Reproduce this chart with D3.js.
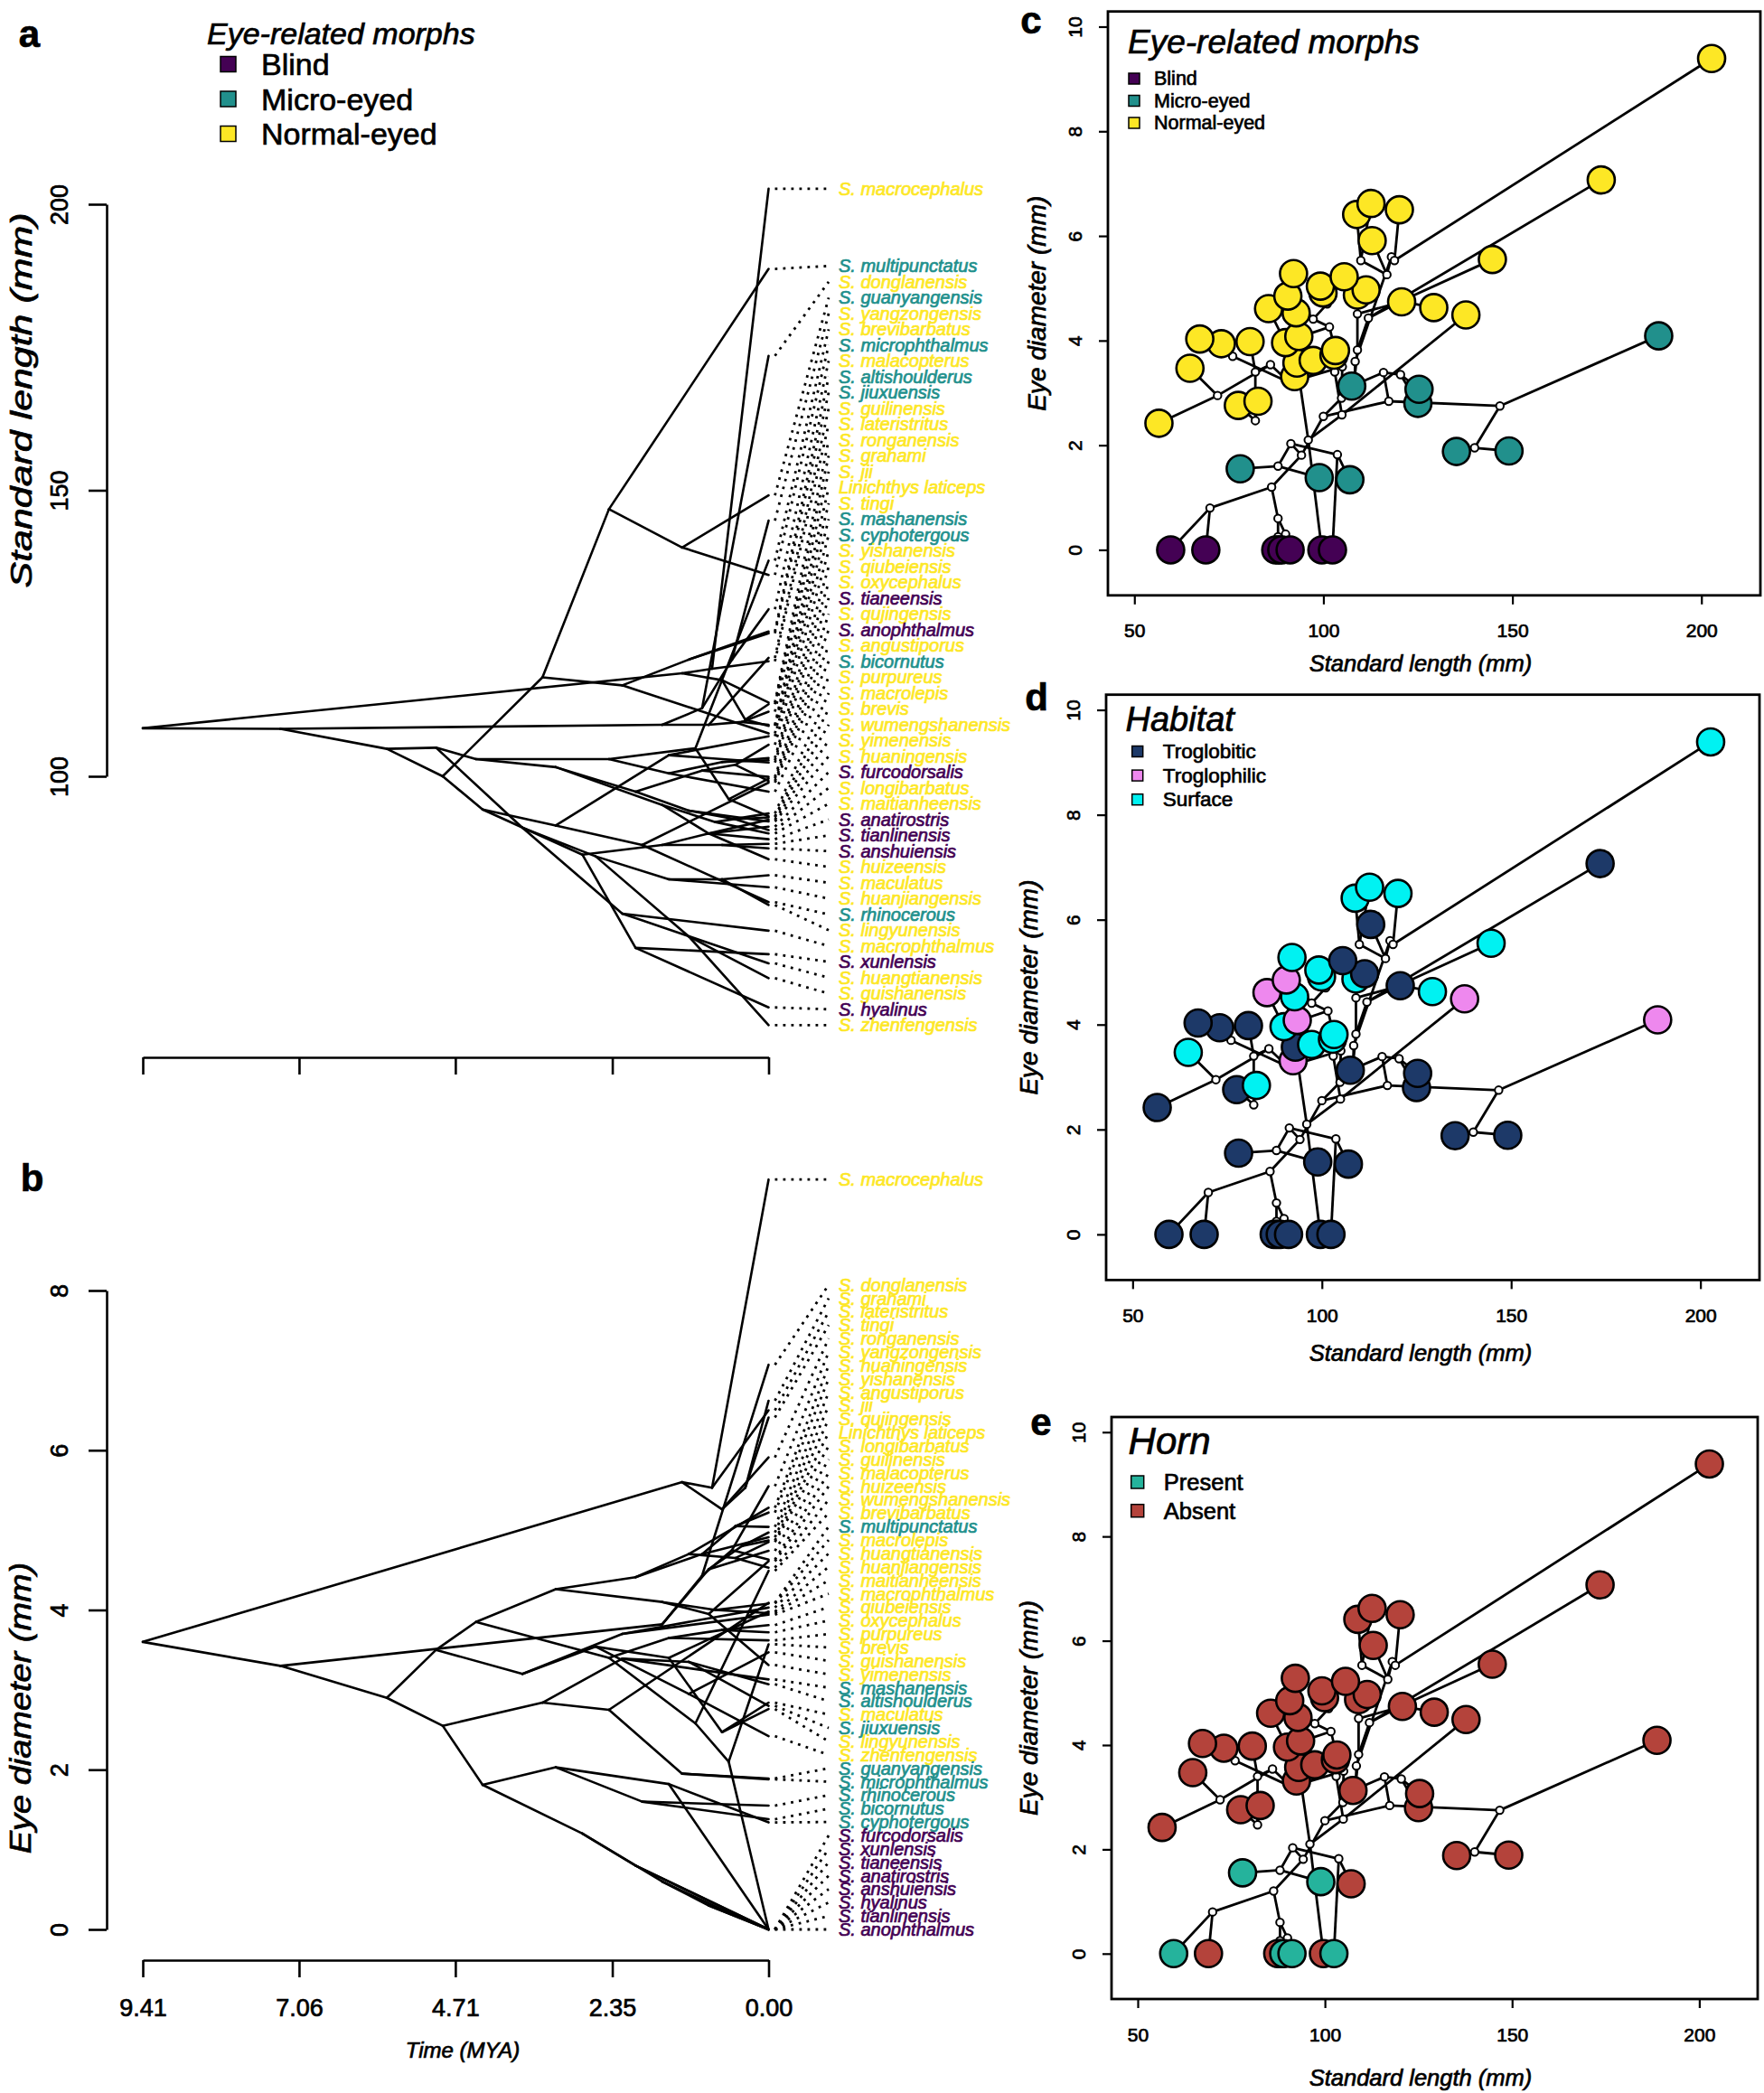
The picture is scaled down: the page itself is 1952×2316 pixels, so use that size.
<!DOCTYPE html>
<html><head><meta charset="utf-8">
<script src="https://cdn.jsdelivr.net/npm/d3@7"></script>
<style>
html,body{margin:0;padding:0;background:#fff;}
svg{display:block;font-family:"Liberation Sans",Arial,Helvetica,sans-serif;}
</style></head><body>
<svg id="fig" width="1952" height="2316"></svg>
<script>
// ---------------- DATA ----------------
// Tips (species), listed in the order of panel b
const tipNames = ["S. macrocephalus","S. donglanensis","S. grahami","S. lateristritus","S. tingi","S. ronganensis","S. yangzongensis","S. huaningensis","S. yishanensis","S. angustiporus","S. jii","S. qujingensis","Linichthys laticeps","S. longibarbatus","S. guilinensis","S. malacopterus","S. huizeensis","S. wumengshanensis","S. brevibarbatus","S. multipunctatus","S. macrolepis","S. huangtianensis","S. huanjiangensis","S. maitianheensis","S. macrophthalmus","S. qiubeiensis","S. oxycephalus","S. purpureus","S. brevis","S. guishanensis","S. yimenensis","S. mashanensis","S. altishoulderus","S. maculatus","S. jiuxuensis","S. lingyunensis","S. zhenfengensis","S. guanyangensis","S. microphthalmus","S. rhinocerous","S. bicornutus","S. cyphotergous","S. furcodorsalis","S. xunlensis","S. tianeensis","S. anatirostris","S. anshuiensis","S. hyalinus","S. tianlinensis","S. anophthalmus"];
const tipSL = [202.7,173.5,112.6,120.1,108.8,112.9,144.7,92.1,105.5,99.2,111.3,99.9,109.0,90.6,120.7,129.2,85.5,92.8,137.7,188.7,93.5,67.3,80.6,90.0,73.0,103.2,102.8,97.3,93.0,64.7,92.4,107.5,125.3,82.7,125.0,77.5,56.5,149.1,135.2,78.0,98.9,107.0,91.2,68.9,102.4,89.0,87.4,59.6,88.2,99.6];
const tipEye = [9.39,7.07,6.62,6.50,6.41,5.91,5.55,5.28,5.22,5.04,4.97,4.91,4.87,4.85,4.74,4.63,4.61,4.53,4.49,4.09,4.08,4.03,3.98,3.96,3.94,3.81,3.72,3.62,3.57,3.47,3.31,3.13,3.07,2.84,2.80,2.76,2.42,1.89,1.88,1.55,1.38,1.34,0,0,0,0,0,0,0,0];
const tipMorph = ["N","N","N","N","N","N","N","N","N","N","N","N","N","N","N","N","N","N","N","M","N","N","N","N","N","N","N","N","N","N","N","M","M","N","M","N","N","M","M","M","M","M","B","B","B","B","B","B","B","B"];
const tipHabitat = ["S","G","S","S","S","G","S","S","G","S","G","S","S","P","G","S","P","S","P","P","P","G","G","S","G","S","S","S","G","S","P","G","G","S","G","G","G","G","G","G","G","G","G","G","G","G","G","G","G","G"];
const tipHorn = ["A","A","A","A","A","A","A","A","A","A","A","A","A","A","A","A","A","A","A","A","A","A","A","A","A","A","A","A","A","A","A","A","A","A","A","A","A","A","A","P","P","A","P","A","P","P","A","P","P","A"];
const tipParent = ["u1","v1","u3","u1","u3","u2","v3","d7","d10","d10","v4","d8","v4","d9","v2","v3","d12","d9","d14","c2","d11","d18","d19","d11","d18","d15","d15","d13","d16","d20","d12","c3","c5","d21","c5","d21","d20","c4","c4","b8","b8","b9","b6","b5","b9","b6","b7","b5","b7","d16"];

// Internal nodes (ancestral states)
const nodeIds    = ["R","n1","n2","nU","u1","u2","u3","nV","v1","v3","v2","v4","n3","d1","d3","d5","d7","d9","d8","d10","d6","d11","d12","d4","d13","d15","d14","d16","d2","d17","d19","d21","d20","d18","n4","b1","b2","b4","b6","b7","b5","b3","b8","b9","c1","c2","c4","c3","c5"];
const nodeParent = [null,"R","n1","R","nU","nU","u2","n1","nV","v1","nV","v2","n2","n3","d1","d3","d5","d7","d5","d8","d3","d6","d6","d1","d4","d13","d4","d14","n3","d2","d17","d19","d17","d2","n2","n4","b1","b2","b4","b4","b2","b1","b3","b3","n4","c1","c2","c1","c3"];
const nodeAge    = [9.41,7.34,5.74,1.30,0.85,0.70,0.35,1.60,1.00,0.55,0.90,0.40,5.00,4.40,3.20,2.00,1.20,0.50,1.00,0.50,1.60,0.80,0.90,2.40,1.50,0.70,1.10,0.60,3.70,2.60,1.50,0.70,1.20,2.20,4.90,4.30,2.80,1.60,0.90,0.70,2.00,3.20,1.90,1.50,3.40,2.40,1.30,2.20,1.20];
const nodeSL     = [108.4,108.3,104.8,118.0,118.8,116.8,109.9,109.0,111.9,120.4,109.0,109.5,105.0,103.0,101.6,97.3,94.0,92.5,101.0,102.0,95.0,92.0,90.0,103.0,100.5,102.5,104.9,96.0,91.0,86.0,82.0,82.0,72.0,76.0,100.0,94.2,86.3,88.0,90.0,88.0,70.0,91.4,88.0,103.7,117.3,146.7,140.0,115.9,120.4];
const nodeEye    = [3.60,3.30,2.90,5.60,5.53,5.26,5.53,3.82,4.43,4.75,4.51,4.80,3.50,3.85,4.26,4.41,4.70,4.65,4.70,5.05,4.10,4.00,3.95,3.40,3.65,3.75,2.58,2.10,3.20,3.54,3.40,2.47,2.95,3.70,2.55,1.81,1.20,0.60,0.30,0.25,0.80,2.03,1.60,1.82,2.84,2.75,1.95,3.39,3.35];

// Categories and tick labels
const morphKeys = ["B","M","N"];
const morphLabels = ["Blind","Micro-eyed","Normal-eyed"];
const habitatKeys = ["G","P","S"];
const habitatLabels = ["Troglobitic","Troglophilic","Surface"];
const hornKeys = ["P","A"];
const hornLabels = ["Present","Absent"];
const timeTicks = [9.41, 7.06, 4.71, 2.35, 0.00];
const slTicksA = [100, 150, 200];
const eyeTicksB = [0, 2, 4, 6, 8];
const slTicksScatter = [50, 100, 150, 200];
const eyeTicksScatter = [0, 2, 4, 6, 8, 10];

// ---------------- STYLE ----------------
const morphColors = {B:"#440154", M:"#21908C", N:"#FDE725"};
const habitatColors = {G:"#1d3968", P:"#ee88ee", S:"#00f2f2"};
const hornColors = {P:"#25b39c", A:"#b4433b"};

// ---------------- BUILD TREE ----------------
const svg = d3.select("#fig");
svg.append("rect").attr("width",1952).attr("height",2316).attr("fill","#fff");

const tips = tipNames.map((name,i)=>({name, SL:tipSL[i], eye:tipEye[i], morph:tipMorph[i], habitat:tipHabitat[i], horn:tipHorn[i], parent:tipParent[i], age:0, tip:true}));
const nodes = nodeIds.map((id,i)=>({id, parent:nodeParent[i], age:nodeAge[i], SL:nodeSL[i], eye:nodeEye[i]}));
const byId = new Map(nodes.map(n=>[n.id,n]));
const edges = [];
nodes.forEach(n=>{ if(n.parent) edges.push({a:byId.get(n.parent), b:n}); });
tips.forEach(t=>edges.push({a:byId.get(t.parent), b:t}));

// ---------------- HELPERS ----------------
function spread(vals, gap, lo, hi){
  const n = vals.length;
  const blocks = [];
  vals.forEach((v,i)=>{
    blocks.push({s:v - i*gap, c:1});
    while(blocks.length>1 && blocks[blocks.length-2].s/blocks[blocks.length-2].c > blocks[blocks.length-1].s/blocks[blocks.length-1].c){
      const b = blocks.pop(); blocks[blocks.length-1].s += b.s; blocks[blocks.length-1].c += b.c;
    }
  });
  const w = []; blocks.forEach(b=>{ for(let k=0;k<b.c;k++) w.push(b.s/b.c); });
  const H = hi - (n-1)*gap;
  return w.map((wi,i)=>Math.min(Math.max(wi,lo),H) + i*gap);
}
function rotLabels(axisG, offset){
  axisG.selectAll(".tick text")
    .attr("transform","rotate(-90)").attr("x",0).attr("y",-offset).attr("dy",null)
    .attr("text-anchor","middle").attr("dominant-baseline","central");
}
function styleAxis(g, lw, fs){
  g.attr("font-family",null).attr("font-size",fs);
  g.selectAll("path.domain").attr("stroke","#000").attr("stroke-width",lw);
  g.selectAll(".tick line").attr("stroke","#000").attr("stroke-width",lw);
  g.selectAll(".tick text").attr("fill","#000");
}

const xTime = d3.scaleLinear().domain([9.41,0]).range([158,850.5]);

// ---------------- PHENOGRAM ----------------
function phenogram(trait, yScale, gap, yTicks, xAxisY, showTimeLabels){
  const g = svg.append("g");
  g.selectAll("line.edge").data(edges).join("line").attr("class","edge")
    .attr("x1",d=>xTime(d.a.age)).attr("y1",d=>yScale(d.a[trait]))
    .attr("x2",d=>xTime(d.b.age)).attr("y2",d=>yScale(d.b[trait]))
    .attr("stroke","#000").attr("stroke-width",2.6).attr("stroke-linecap","round");
  const sorted = tips.map(t=>({t, y:yScale(t[trait])})).sort((p,q)=>p.y-q.y);
  const ys = sorted.map(s=>s.y);
  const lab = spread(ys, gap, d3.min(ys), d3.max(ys));
  sorted.forEach((s,i)=>{ s.ly = lab[i]; });
  const tipX = xTime(0);
  g.selectAll("line.lead").data(sorted).join("line").attr("class","lead")
    .attr("x1",tipX+7).attr("y1",d=>d.y).attr("x2",917).attr("y2",d=>d.ly)
    .attr("stroke","#000").attr("stroke-width",2.8).attr("stroke-dasharray","2.8,6.2");
  g.selectAll("text.tip").data(sorted).join("text").attr("class","tip")
    .attr("x",928).attr("y",d=>d.ly).attr("dominant-baseline","central")
    .attr("font-size",20).attr("font-style","italic")
    .attr("fill",d=>morphColors[d.t.morph]).text(d=>d.t.name);
  // y axis
  const ya = g.append("g").attr("transform","translate(118,0)")
    .call(d3.axisLeft(yScale).tickValues(yTicks).tickSize(20).tickSizeOuter(0));
  styleAxis(ya, 2.6, 27);
  rotLabels(ya, 52);
  // x axis
  const xa = g.append("g").attr("transform",`translate(0,${xAxisY})`)
    .call(d3.axisBottom(xTime).tickValues(timeTicks).tickSize(19).tickSizeOuter(0)
      .tickFormat(showTimeLabels ? d3.format(".2f") : ()=>""));
  styleAxis(xa, 2.6, 27);
  xa.selectAll(".tick text").attr("y",53).attr("dy",null).attr("dominant-baseline","central");
  return g;
}

const ySL = d3.scaleLinear().domain([100,200]).range([859,226]);
const yEye = d3.scaleLinear().domain([0,8]).range([2135,1428]);
phenogram("SL", ySL, 17.5, slTicksA, 1170, false);
phenogram("eye", yEye, 14.86, eyeTicksB, 2169, true);

// titles for a/b (stretched along their length like the reference)
svg.append("text").attr("transform","translate(23,443) rotate(-90) scale(1.3,1)").attr("text-anchor","middle")
  .attr("dominant-baseline","central").attr("font-size",33).attr("font-style","italic").text("Standard length (mm)");
svg.append("text").attr("transform","translate(23,1890) rotate(-90) scale(1.15,1)").attr("text-anchor","middle")
  .attr("dominant-baseline","central").attr("font-size",33).attr("font-style","italic").text("Eye diameter (mm)");
svg.append("text").attr("x",512).attr("y",2268).attr("text-anchor","middle")
  .attr("dominant-baseline","central").attr("font-size",24).attr("font-style","italic").text("Time (MYA)");

// legend panel a
const legA = svg.append("g");
legA.append("text").attr("x",229).attr("y",37).attr("dominant-baseline","central")
  .attr("font-size",34).attr("font-style","italic").text("Eye-related morphs");
legA.selectAll("rect").data(morphKeys).join("rect")
  .attr("x",244).attr("y",(d,i)=>71+i*38.5-8.5).attr("width",17).attr("height",17)
  .attr("fill",d=>morphColors[d]).attr("stroke","#000").attr("stroke-width",1.5);
legA.selectAll("text.item").data(morphLabels).join("text").attr("class","item")
  .attr("x",289).attr("y",(d,i)=>71+i*38.5).attr("dominant-baseline","central")
  .attr("font-size",34).text(d=>d);

// panel letters
[["a",32.5,37],["b",35.6,1303],["c",1141,22],["d",1147,771],["e",1152,1573]].forEach(([t,x,y])=>{
  svg.append("text").attr("x",x).attr("y",y).attr("text-anchor","middle").attr("dominant-baseline","central")
    .attr("font-size",42).attr("font-weight","bold").text(t);
});

// ---------------- PHYLOMORPHOSPACE PANELS ----------------
function scatterPanel(box, colorKey, colors, keys, labels, leg){
  const x = d3.scaleLinear().domain([43,215.6]).range([box.L, box.R]);
  const y = d3.scaleLinear().domain([-0.87,10.29]).range([box.B, box.T]);
  const g = svg.append("g");
  g.append("rect").attr("x",box.L).attr("y",box.T).attr("width",box.R-box.L).attr("height",box.B-box.T)
    .attr("fill","none").attr("stroke","#000").attr("stroke-width",2.8);
  const xa = g.append("g").attr("transform",`translate(0,${box.B})`)
    .call(d3.axisBottom(x).tickValues(slTicksScatter).tickSize(10).tickSizeOuter(0));
  styleAxis(xa, 2.2, 21); xa.select("path.domain").remove();
  xa.selectAll(".tick text").attr("y",39).attr("dy",null).attr("dominant-baseline","central");
  const ya = g.append("g").attr("transform",`translate(${box.L},0)`)
    .call(d3.axisLeft(y).tickValues(eyeTicksScatter).tickSize(10).tickSizeOuter(0));
  styleAxis(ya, 2.2, 21); ya.select("path.domain").remove();
  rotLabels(ya, 37);
  g.append("text").attr("x",1572).attr("y",box.xt).attr("text-anchor","middle").attr("dominant-baseline","central")
    .attr("font-size",25.5).attr("font-style","italic").text("Standard length (mm)");
  g.append("text").attr("transform",`translate(${box.yt},${(box.T+box.B)/2}) rotate(-90)`).attr("text-anchor","middle")
    .attr("dominant-baseline","central").attr("font-size",28).attr("font-style","italic").text("Eye diameter (mm)");
  // tree edges
  g.selectAll("line.edge").data(edges).join("line").attr("class","edge")
    .attr("x1",d=>x(d.a.SL)).attr("y1",d=>y(d.a.eye)).attr("x2",d=>x(d.b.SL)).attr("y2",d=>y(d.b.eye))
    .attr("stroke","#000").attr("stroke-width",2.8);
  g.selectAll("circle.node").data(nodes).join("circle").attr("class","node")
    .attr("cx",d=>x(d.SL)).attr("cy",d=>y(d.eye)).attr("r",4.2)
    .attr("fill","#fff").attr("stroke","#000").attr("stroke-width",2);
  g.selectAll("circle.tip").data(tips.slice().reverse()).join("circle").attr("class","tip")
    .attr("cx",d=>x(d.SL)).attr("cy",d=>y(d.eye)).attr("r",15)
    .attr("fill",d=>colors[d[colorKey]]).attr("stroke","#000").attr("stroke-width",2.6);
  // legend
  g.append("text").attr("x",leg.tx).attr("y",leg.ty).attr("dominant-baseline","central")
    .attr("font-size",leg.tfs).attr("font-style","italic").text(leg.title);
  g.selectAll("rect.key").data(keys).join("rect").attr("class","key")
    .attr("x",leg.sx-leg.ss/2).attr("y",(d,i)=>leg.y0+i*leg.dy-leg.ss/2).attr("width",leg.ss).attr("height",leg.ss)
    .attr("fill",d=>colors[d]).attr("stroke","#000").attr("stroke-width",1.5);
  g.selectAll("text.item").data(labels).join("text").attr("class","item")
    .attr("x",leg.lx).attr("y",(d,i)=>leg.y0+i*leg.dy).attr("dominant-baseline","central")
    .attr("font-size",leg.fs).text(d=>d);
}

scatterPanel({L:1226,R:1948,T:12.7,B:658.8,xt:734,yt:1147}, "morph", morphColors, morphKeys, morphLabels,
  {title:"Eye-related morphs", tx:1248, ty:46, tfs:37, sx:1255, ss:12, y0:87, dy:24.5, lx:1277, fs:21.5});
scatterPanel({L:1224,R:1947,T:768.7,B:1416.4,xt:1497,yt:1138}, "habitat", habitatColors, habitatKeys, habitatLabels,
  {title:"Habitat", tx:1245.5, ty:796, tfs:38, sx:1258.7, ss:12, y0:831.5, dy:26.6, lx:1286.8, fs:22.5});
scatterPanel({L:1230,R:1945,T:1568,B:2212,xt:2299,yt:1138}, "horn", hornColors, hornKeys, hornLabels,
  {title:"Horn", tx:1248.6, ty:1594.5, tfs:42, sx:1258.7, ss:14, y0:1640, dy:31.7, lx:1287.8, fs:25.5});

// slightly heavier glyphs, like the reference rendering
svg.selectAll("text").each(function(){
  const f = this.getAttribute("fill") || "#000";
  d3.select(this).attr("stroke", f).attr("stroke-width", 0.7).attr("paint-order","stroke");
});
</script>
</body></html>
